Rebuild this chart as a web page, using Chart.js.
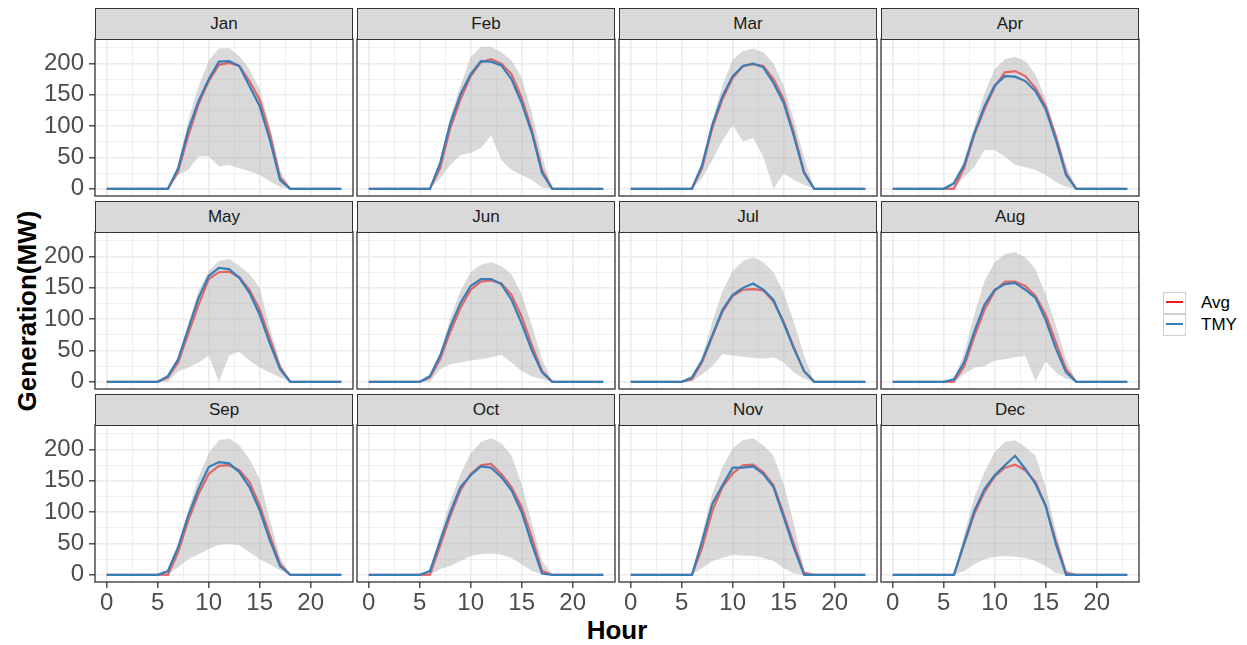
<!DOCTYPE html>
<html>
<head>
<meta charset="utf-8">
<script src="https://cdn.jsdelivr.net/npm/chart.js@4.4.1/dist/chart.umd.min.js"></script>
<style>
  html, body { margin: 0; padding: 0; background: #fff; }
  body { width: 1247px; height: 645px; position: relative; overflow: hidden; font-family: 'Liberation Sans', Arial, sans-serif; }
  .panel { position: absolute; }
  .strip { position: absolute; box-sizing: border-box; background: #D9D9D9; border: 1.3px solid #333333; color: #1A1A1A; font-size: 17px; text-align: center; line-height: 30px; }
  .title { position: absolute; font-weight: bold; font-size: 26px; color: #000; white-space: nowrap; }
  .legend { position: absolute; left: 1163px; top: 292px; }
  .key { position: relative; height: 22px; }
  .key .box { position: absolute; left: 0; top: 0; width: 23px; height: 22px; box-sizing: border-box; border: 1.5px solid #D0D0D0; background: #fff; }
  .key .line { position: absolute; left: 3px; top: 9px; width: 17px; height: 2px; }
  .key .lab { position: absolute; left: 38px; top: 0; line-height: 22px; font-size: 17px; color: #000; }
</style>
</head>
<body>
<div class="title" style="left:0; top:0; width:54px; height:645px;">
  <div style="position:absolute; left:27px; top:311px; transform:translate(-50%,-50%) rotate(-90deg);">Generation(MW)</div>
</div>
<div class="title" style="left:95px; width:1044px; top:615px; text-align:center; line-height:30px;">Hour</div>
<div class="legend">
  <div class="key"><div class="box"></div><div class="line" style="background:#E41A1C"></div><div class="lab">Avg</div></div>
  <div class="key"><div class="box"></div><div class="line" style="background:#377EB8"></div><div class="lab">TMY</div></div>
</div>
<script>
const months = ['Jan', 'Feb', 'Mar', 'Apr', 'May', 'Jun', 'Jul', 'Aug', 'Sep', 'Oct', 'Nov', 'Dec'];
const hours = [0, 1, 2, 3, 4, 5, 6, 7, 8, 9, 10, 11, 12, 13, 14, 15, 16, 17, 18, 19, 20, 21, 22, 23];

// TMY generation per month, hours 0-23
const tmy = [
  [0,0,0,0,0,0, 0,33,94,140,175,203,204,196,164,132,78,14, 0,0,0,0,0,0],
  [0,0,0,0,0,0, 0,41,105,151,183,204,203,197,175,137,89,25, 0,0,0,0,0,0],
  [0,0,0,0,0,0, 0,38,102,148,180,196,200,194,169,137,84,25, 0,0,0,0,0,0],
  [0,0,0,0,0,0, 9,38,89,132,165,180,179,172,156,127,78,22, 0,0,0,0,0,0],
  [0,0,0,0,0,0, 9,36,85,134,169,182,180,166,142,107,61,20, 0,0,0,0,0,0],
  [0,0,0,0,0,0, 9,42,88,126,153,164,164,156,131,93,50,15, 0,0,0,0,0,0],
  [0,0,0,0,0,0, 7,34,74,115,139,150,157,147,131,93,53,17, 0,0,0,0,0,0],
  [0,0,0,0,0,0, 4,31,80,123,147,156,158,147,134,99,53,15, 0,0,0,0,0,0],
  [0,0,0,0,0,0, 6,44,95,137,172,180,178,164,140,103,55,14, 0,0,0,0,0,0],
  [0,0,0,0,0,0, 6,54,100,140,159,173,171,156,135,100,49,2, 0,0,0,0,0,0],
  [0,0,0,0,0,0, 0,54,113,143,171,171,173,161,140,92,43,0, 0,0,0,0,0,0],
  [0,0,0,0,0,0, 0,51,102,137,159,175,190,169,145,110,49,0, 0,0,0,0,0,0]
];

// average generation per month
const avg = [
  [0,0,0,0,0,0, 0,27,85,135,172,198,201,196,172,142,88,18, 0,0,0,0,0,0],
  [0,0,0,0,0,0, 0,33,97,143,180,202,207,200,183,145,94,30, 0,0,0,0,0,0],
  [0,0,0,0,0,0, 0,33,97,143,177,196,199,196,175,143,89,27, 0,0,0,0,0,0],
  [0,0,0,0,0,0, 0,33,86,127,163,186,188,180,161,132,84,25, 0,0,0,0,0,0],
  [0,0,0,0,0,0, 7,31,77,123,164,175,176,167,147,115,69,23, 0,0,0,0,0,0],
  [0,0,0,0,0,0, 7,36,80,118,147,160,162,157,139,104,58,17, 0,0,0,0,0,0],
  [0,0,0,0,0,0, 4,31,72,112,137,147,148,146,128,96,55,17, 0,0,0,0,0,0],
  [0,0,0,0,0,0, 0,25,72,115,145,160,160,153,137,107,63,20, 0,0,0,0,0,0],
  [0,0,0,0,0,0, 0,36,87,129,161,174,175,167,148,111,63,17, 0,0,0,0,0,0],
  [0,0,0,0,0,0, 0,46,94,135,161,175,177,161,140,108,60,6, 0,0,0,0,0,0],
  [0,0,0,0,0,0, 0,43,102,140,162,175,176,164,143,97,49,3, 0,0,0,0,0,0],
  [0,0,0,0,0,0, 0,49,97,132,157,171,176,167,148,110,54,3, 0,0,0,0,0,0]
];

// min / max band
const low = [
  [0,0,0,0,0,0, 0,22,30,52,52,36,38,33,28,22,12,3, 0,0,0,0,0,0],
  [0,0,0,0,0,0, 0,17,38,54,57,65,85,46,30,22,14,2, 0,0,0,0,0,0],
  [0,0,0,0,0,0, 0,17,46,78,101,76,81,51,0,25,14,6, 0,0,0,0,0,0],
  [0,0,0,0,0,0, 0,19,35,62,62,51,38,35,30,22,11,3, 0,0,0,0,0,0],
  [0,0,0,0,0,0, 0,17,23,31,42,0,42,48,34,23,15,7, 0,0,0,0,0,0],
  [0,0,0,0,0,0, 0,20,28,31,34,36,39,43,31,17,9,4, 0,0,0,0,0,0],
  [0,0,0,0,0,0, 0,12,25,44,42,40,38,37,39,31,15,5, 0,0,0,0,0,0],
  [0,0,0,0,0,0, 0,12,23,25,34,36,39,41,1,33,15,5, 0,0,0,0,0,0],
  [0,0,0,0,0,0, 0,12,25,33,41,48,49,47,36,25,17,7, 0,0,0,0,0,0],
  [0,0,0,0,0,0, 0,9,14,22,30,33,34,32,27,17,6,1, 0,0,0,0,0,0],
  [0,0,0,0,0,0, 0,11,22,27,32,31,30,27,22,11,2,0, 0,0,0,0,0,0],
  [0,0,0,0,0,0, 0,6,17,25,29,30,29,27,22,14,3,0, 0,0,0,0,0,0]
];
const high = [
  [0,0,0,0,0,0, 0,38,110,163,205,224,225,212,191,159,100,30, 0,0,0,0,0,0],
  [0,0,0,0,0,0, 0,45,115,165,210,227,227,218,205,177,121,51, 0,0,0,0,0,0],
  [0,0,0,0,0,0, 0,40,110,165,207,220,224,218,200,164,110,50, 0,0,0,0,0,0],
  [0,0,0,0,0,0, 10,45,100,153,191,207,211,204,183,143,89,38, 0,0,0,0,0,0],
  [0,0,0,0,0,0, 10,40,93,145,177,193,196,185,172,150,85,31, 0,0,0,0,0,0],
  [0,0,0,0,0,0, 10,45,101,145,175,187,191,185,172,139,90,36, 0,0,0,0,0,0],
  [0,0,0,0,0,0, 8,40,96,145,177,193,199,191,175,142,95,42, 0,0,0,0,0,0],
  [0,0,0,0,0,0, 5,45,107,161,191,204,207,199,180,139,90,36, 0,0,0,0,0,0],
  [0,0,0,0,0,0, 5,49,103,156,194,215,218,207,185,153,87,28, 0,0,0,0,0,0],
  [0,0,0,0,0,0, 5,65,118,161,194,212,218,210,190,145,81,22, 0,0,0,0,0,0],
  [0,0,0,0,0,0, 0,65,129,172,202,215,218,207,190,145,81,6, 0,0,0,0,0,0],
  [0,0,0,0,0,0, 0,65,124,164,196,212,215,204,190,140,70,8, 0,0,0,0,0,0]
];

const xLabels = [0, 5, 10, 15, 20];
const yLabels = [0, 50, 100, 150, 200];

const panelLeft = [95, 357, 619, 881];
const panelTop = [39, 232, 425];
const panelW = 258;
const panelH = 157;
const font = "'Liberation Sans', Arial, sans-serif";

const frame = {
  id: 'frame',
  afterDraw(chart) {
    const { ctx, chartArea: a } = chart;
    ctx.save();
    ctx.strokeStyle = '#333333';
    ctx.lineWidth = 1.3;
    ctx.strokeRect(a.left, a.top, a.right - a.left, a.bottom - a.top);
    ctx.restore();
  },
};

function points(arr) {
  return hours.map((h, i) => ({ x: h, y: arr[i] }));
}

months.forEach((name, m) => {
  const row = Math.floor(m / 4);
  const col = m % 4;
  const yW = col == 0 ? 93 : 0;
  const xH = row == 2 ? 40 : 0;

  const box = document.createElement('div');
  box.className = 'panel';
  box.style.left = (col == 0 ? 0 : panelLeft[col] - 2) + 'px';
  box.style.top = panelTop[row] - 2 + 'px';
  box.style.width = yW + panelW + 4 + 'px';
  box.style.height = panelH + xH + 4 + 'px';
  const canvas = document.createElement('canvas');
  box.appendChild(canvas);
  document.body.appendChild(box);

  const strip = document.createElement('div');
  strip.className = 'strip';
  strip.style.left = panelLeft[col] + 'px';
  strip.style.top = panelTop[row] - 31 + 'px';
  strip.style.width = panelW + 'px';
  strip.style.height = '32px';
  strip.textContent = name;
  document.body.appendChild(strip);

  new Chart(canvas, {
    type: 'line',
    data: {
      datasets: [
        { label: 'TMY', data: points(tmy[m]), borderColor: '#377EB8', borderWidth: 2.2 },
        { label: 'Avg', data: points(avg[m]), borderColor: 'rgba(228,26,28,0.6)', borderWidth: 2.2 },
        { label: 'max', data: points(high[m]), borderWidth: 0, borderColor: 'rgba(0,0,0,0)', backgroundColor: 'rgba(179,179,179,0.5)', fill: '+1' },
        { label: 'min', data: points(low[m]), borderWidth: 0, borderColor: 'rgba(0,0,0,0)', fill: false },
      ],
    },
    options: {
      responsive: true,
      maintainAspectRatio: false,
      animation: false,
      layout: { padding: 2 },
      elements: { point: { radius: 0 }, line: { tension: 0 } },
      plugins: { legend: { display: false }, tooltip: { enabled: false } },
      scales: {
        x: {
          type: 'linear',
          min: -1.15,
          max: 24.15,
          afterFit: (s) => {
            s.height = xH;
            s.paddingLeft = 0;
            s.paddingRight = 0;
          },
          ticks: {
            display: row == 2,
            stepSize: 2.5,
            includeBounds: false,
            autoSkip: false,
            maxRotation: 0,
            padding: 1,
            color: '#4D4D4D',
            font: { size: 24, family: font },
            callback: (v) => (xLabels.includes(v) ? v : ''),
          },
          grid: {
            color: '#EBEBEB',
            lineWidth: (c) => (c.tick && xLabels.includes(c.tick.value) ? 1.6 : 0.8),
            drawTicks: row == 2,
            tickLength: 6,
            tickWidth: 1.3,
            tickColor: (c) => (c.tick && xLabels.includes(c.tick.value) ? '#333333' : 'rgba(0,0,0,0)'),
          },
          border: { display: false },
        },
        y: {
          type: 'linear',
          min: -11.5,
          max: 239.2,
          afterFit: (s) => {
            s.width = yW;
            s.paddingTop = 0;
            s.paddingBottom = 0;
          },
          ticks: {
            display: col == 0,
            stepSize: 25,
            includeBounds: false,
            autoSkip: false,
            padding: 5,
            color: '#4D4D4D',
            font: { size: 24, family: font },
            callback: (v) => (yLabels.includes(v) ? v : ''),
          },
          grid: {
            color: '#EBEBEB',
            lineWidth: (c) => (c.tick && yLabels.includes(c.tick.value) ? 1.6 : 0.8),
            drawTicks: col == 0,
            tickLength: 6,
            tickWidth: 1.3,
            tickColor: (c) => (c.tick && yLabels.includes(c.tick.value) ? '#333333' : 'rgba(0,0,0,0)'),
          },
          border: { display: false },
        },
      },
    },
    plugins: [frame],
  });
});
</script>
</body>
</html>
